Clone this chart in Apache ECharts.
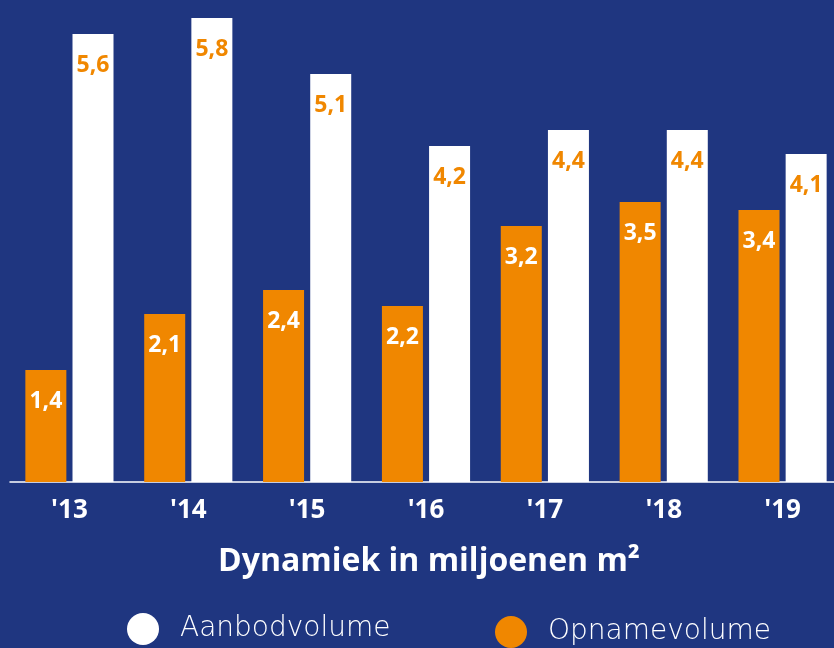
<!DOCTYPE html>
<html>
<head>
<meta charset="utf-8">
<script src="https://cdn.jsdelivr.net/npm/echarts@6/dist/echarts.min.js"></script>
<style>
  html, body { margin: 0; padding: 0; background: #1f3680; overflow: hidden; }
  #chart { width: 842px; height: 648px; }
</style>
</head>
<body>
<div id="chart"></div>
<script>
const years = ["'13", "'14", "'15", "'16", "'17", "'18", "'19"]
const opname = [1.4, 2.1, 2.4, 2.2, 3.2, 3.5, 3.4]
const aanbod = [5.6, 5.8, 5.1, 4.2, 4.4, 4.4, 4.1]

const orange = '#f08700'
const fmt = (p) => String(p.value).replace('.', ',')

const legendText = {
  color: '#fff',
  fontFamily: 'DejaVu Sans',
  fontWeight: 'lighter',
  fontSize: 28,
  padding: [6, 0, 0, 16],
}

const chart = echarts.init(document.getElementById('chart'))
const option = {
  backgroundColor: '#1f3680',
  animation: false,
  title: {
    text: 'Dynamiek in miljoenen m²',
    left: 424,
    textAlign: 'center',
    top: 541,
    textStyle: {
      color: '#fff',
      fontFamily: 'Open Sans',
      fontWeight: 'bold',
      fontSize: 32,
    },
  },
  legend: [
    {
      data: ['Aanbodvolume'],
      left: 122,
      top: 608,
      icon: 'circle',
      itemWidth: 32,
      itemHeight: 32,
      textStyle: legendText,
    },
    {
      data: ['Opnamevolume'],
      left: 490,
      top: 611,
      icon: 'circle',
      itemWidth: 32,
      itemHeight: 32,
      textStyle: legendText,
    },
  ],
  grid: {
    left: 10,
    right: 0,
    top: 2,
    bottom: 166,
    containLabel: false,
  },
  xAxis: {
    type: 'category',
    data: years,
    axisLine: { lineStyle: { color: '#fff', width: 1.5 } },
    axisTick: { show: false },
    axisLabel: {
      color: '#fff',
      fontFamily: 'Open Sans',
      fontWeight: 'bold',
      fontSize: 26,
      margin: 16,
    },
  },
  yAxis: {
    type: 'value',
    min: 0,
    max: 6,
    show: false,
    splitLine: { show: false },
  },
  series: [
    {
      name: 'Opnamevolume',
      type: 'bar',
      data: opname,
      barWidth: 41,
      barGap: '15%',
      itemStyle: { color: orange },
      label: {
        show: true,
        position: 'insideTop',
        distance: 20,
        formatter: fmt,
        color: '#fff',
        fontFamily: 'Open Sans',
        fontWeight: 'bold',
        fontSize: 23,
      },
    },
    {
      name: 'Aanbodvolume',
      type: 'bar',
      data: aanbod,
      barWidth: 41,
      itemStyle: { color: '#fff' },
      label: {
        show: true,
        position: 'insideTop',
        distance: 20,
        formatter: fmt,
        color: orange,
        fontFamily: 'Open Sans',
        fontWeight: 'bold',
        fontSize: 23,
      },
    },
  ],
}
chart.setOption(option)
</script>
</body>
</html>
